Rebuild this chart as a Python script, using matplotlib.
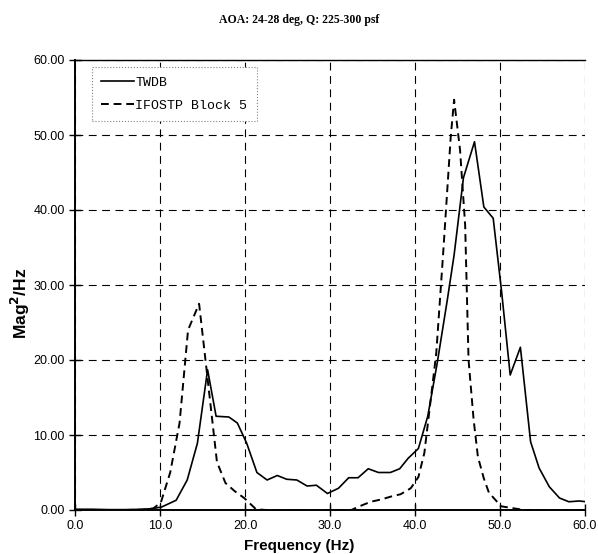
import matplotlib
matplotlib.use("Agg")
import matplotlib.pyplot as plt
from matplotlib.ticker import FormatStrFormatter

# TWDB (solid)
twdb_freq = [0.0, 2.0, 4.0, 6.0, 8.0, 9.2, 10.2, 11.9, 13.2, 14.4, 15.6, 16.6, 18.1,
             19.1, 20.2, 21.4, 22.6, 23.8, 24.9, 26.1, 27.3, 28.4, 29.7, 31.0, 32.2,
             33.3, 34.5, 35.7, 37.1, 38.2, 39.2, 40.4, 41.5, 42.6, 43.8, 44.6, 45.7,
             47.0, 48.1, 49.2, 50.2, 51.2, 52.4, 53.6, 54.6, 55.8, 57.0, 58.1, 59.3, 60.2]
twdb_mag = [0.1, 0.1, 0.05, 0.05, 0.1, 0.2, 0.4, 1.3, 4.0, 8.9, 18.7, 12.5, 12.4,
            11.6, 8.9, 5.0, 4.0, 4.6, 4.1, 4.0, 3.2, 3.3, 2.2, 2.9, 4.3,
            4.3, 5.5, 5.0, 5.0, 5.5, 6.9, 8.2, 12.5, 19.5, 28.0, 34.0, 44.3,
            49.1, 40.4, 38.9, 29.0, 18.0, 21.7, 9.1, 5.6, 3.1, 1.6, 1.1, 1.2, 1.1]

# IFOSTP Block 5 (dashed)
ifostp_freq = [0.0, 2.0, 4.0, 6.0, 8.0, 9.2, 10.1, 11.2, 12.3, 13.3, 14.6, 15.5, 16.7,
               17.7, 18.8, 19.9, 21.3, 22.5, 25.0, 28.0, 30.0, 32.5, 33.7, 34.8, 36.0,
               37.2, 38.3, 39.5, 40.4, 41.1, 41.7, 42.5, 43.3, 44.2, 44.6, 45.3, 45.9,
               46.3, 46.9, 47.4, 48.1, 48.7, 49.5, 50.1, 51.2, 52.3, 53.0, 56.0, 60.0]
ifostp_mag = [0.0, 0.0, 0.0, 0.0, 0.05, 0.2, 1.0, 5.0, 11.6, 24.0, 27.5, 18.5, 6.4,
              3.6, 2.5, 1.6, 0.1, 0.0, 0.0, 0.0, 0.0, 0.0, 0.6, 1.1, 1.4,
              1.8, 2.1, 2.9, 4.4, 7.6, 13.3, 20.9, 34.0, 49.7, 54.7, 48.0, 38.0,
              20.0, 12.0, 7.1, 4.2, 2.3, 1.3, 0.5, 0.3, 0.1, 0.0, 0.0, 0.0]

x_ticks = [0, 10, 20, 30, 40, 50, 60]
y_ticks = [0, 10, 20, 30, 40, 50, 60]

fig = plt.figure(figsize=(5.98, 5.54), dpi=100)
# axes: x from 75 to 585 px, y from 60 to 510 px
ax = fig.add_axes([75 / 598, 44 / 554, 510 / 598, 450 / 554])

ax.plot(twdb_freq, twdb_mag, color="black", lw=1.2, label="TWDB")
ax.plot(ifostp_freq, ifostp_mag, color="black", lw=1.4, linestyle=(0, (4, 2.5)),
        label="IFOSTP Block 5")

ax.set_xlim(0, 60)
ax.set_ylim(0, 60)
ax.set_xticks(x_ticks)
ax.set_yticks(y_ticks)
ax.xaxis.set_major_formatter(FormatStrFormatter("%.1f"))
ax.yaxis.set_major_formatter(FormatStrFormatter("%.2f"))
ax.tick_params(direction="inout", length=8, width=1, labelsize=9, colors="black")
for lab in ax.get_xticklabels() + ax.get_yticklabels():
    lab.set_family("Liberation Sans")

ax.grid(True, color="black", lw=0.8, linestyle=(0, (7, 5)))
ax.spines["right"].set_visible(False)
for s in ["left", "bottom"]:
    ax.spines[s].set_linewidth(1.4)
ax.spines["top"].set_linewidth(1.0)

ax.set_xlabel("Frequency (Hz)", family="Liberation Sans", weight="bold", fontsize=11)
ax.xaxis.set_label_coords(0.44, -0.065)
ax.set_ylabel(r"Mag$^{\mathbf{2}}$/Hz", family="Liberation Sans", weight="bold",
              fontsize=12.5)
ax.yaxis.set_label_coords(-0.085, 0.46)

fig.suptitle("AOA: 24-28 deg, Q: 225-300 psf", family="Liberation Serif",
             weight="bold", fontsize=8.5, x=0.5, y=0.975)

leg = ax.legend(loc="upper left", bbox_to_anchor=(0.02, 0.998),
                prop={"family": "Liberation Mono", "size": 9.5},
                handlelength=2.5, handletextpad=0.1, labelspacing=0.8,
                borderpad=0.7, fancybox=False, framealpha=1)
leg.get_frame().set_linestyle(":")
leg.get_frame().set_edgecolor("gray")
leg.get_frame().set_linewidth(0.8)

fig.savefig("out.png", dpi=100)
